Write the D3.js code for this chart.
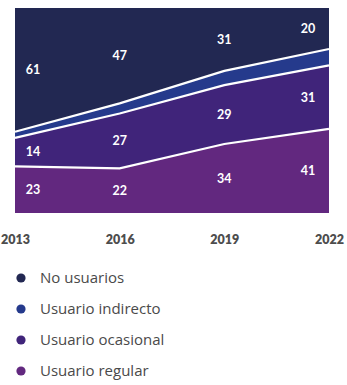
<!DOCTYPE html>
<html>
<head>
<meta charset="utf-8">
<script src="https://cdn.jsdelivr.net/npm/d3@7"></script>
<style>
  body { margin: 0; background: #fff; }
  svg { display: block; }
</style>
</head>
<body>
<svg id="chart" width="347" height="385"></svg>
<script>
// Data (percent of people per year)
const years = ['2013', '2016', '2019', '2022'];
const seriesNames = ['Usuario regular', 'Usuario ocasional', 'Usuario indirecto', 'No usuarios'];
const regular = [23, 22, 34, 41];
const ocasional = [14, 27, 29, 31];
const indirecto = [3, 5, 7, 8];      // unlabeled thin band
const noUsuarios = [61, 47, 31, 20];
const legendOrder = ['No usuarios', 'Usuario indirecto', 'Usuario ocasional', 'Usuario regular'];
const labelled = ['Usuario regular', 'Usuario ocasional', 'No usuarios'];

const colors = {
  'No usuarios': '#222852',
  'Usuario indirecto': '#253a8c',
  'Usuario ocasional': '#40247a',
  'Usuario regular': '#62287f'
};

let rows = years.map((y, i) => ({
  year: y,
  'Usuario regular': regular[i],
  'Usuario ocasional': ocasional[i],
  'Usuario indirecto': indirecto[i],
  'No usuarios': noUsuarios[i]
}));

let stacked = d3.stack().keys(seriesNames).offset(d3.stackOffsetExpand)(rows);

const svg = d3.select('#chart');
const plot = {left: 15, right: 329, top: 8, bottom: 213};

let x = d3.scalePoint().domain(years).range([plot.left, plot.right]);
let y = d3.scaleLinear().domain([0, 1]).range([plot.bottom, plot.top]);

let area = d3.area()
  .x(d => x(d.data.year))
  .y0(d => y(d[0]))
  .y1(d => y(d[1]));

svg.append('g').selectAll('path')
  .data(stacked)
  .enter().append('path')
  .attr('d', area)
  .attr('fill', d => colors[d.key]);

// white separator lines on top of every band except the last one
let topLine = d3.line()
  .x(d => x(d.data.year))
  .y(d => y(d[1]));

svg.append('g').selectAll('path')
  .data(stacked.slice(0, -1))
  .enter().append('path')
  .attr('d', topLine)
  .attr('fill', 'none')
  .attr('stroke', '#fff')
  .attr('stroke-width', 2.2);

// value labels, pulled inward at both ends
function labelX(i) {
  if (i === 0) return x(years[i]) + 18;
  if (i === years.length - 1) return x(years[i]) - 21;
  return x(years[i]);
}

stacked.filter(s => labelled.includes(s.key)).forEach(s => {
  svg.append('g').selectAll('text')
    .data(s)
    .enter().append('text')
    .attr('x', (d, i) => labelX(i))
    .attr('y', d => (y(d[0]) + y(d[1])) / 2)
    .attr('dy', '0.35em')
    .attr('text-anchor', 'middle')
    .attr('fill', '#fff')
    .style('font', '700 12.5px Lato, sans-serif')
    .text(d => d.data[s.key]);
});

// x axis labels
let xAxis = d3.axisBottom(x).tickSize(0).tickPadding(0);
let axisG = svg.append('g')
  .attr('transform', `translate(0, ${plot.bottom + 22})`)
  .call(xAxis);
axisG.select('.domain').remove();
axisG.selectAll('text')
  .attr('fill', '#4d4d4d')
  .style('font', '800 12.5px Lato, sans-serif');

// legend
let legend = svg.append('g').selectAll('g')
  .data(legendOrder)
  .enter().append('g')
  .attr('transform', (d, i) => `translate(21, ${278 + i * 31})`);

legend.append('circle')
  .attr('r', 4.6)
  .attr('fill', d => colors[d]);

legend.append('text')
  .attr('x', 19)
  .attr('dy', '0.35em')
  .attr('fill', '#4a4a4a')
  .style('font', '400 15px "Open Sans", sans-serif')
  .text(d => d);
</script>
</body>
</html>
